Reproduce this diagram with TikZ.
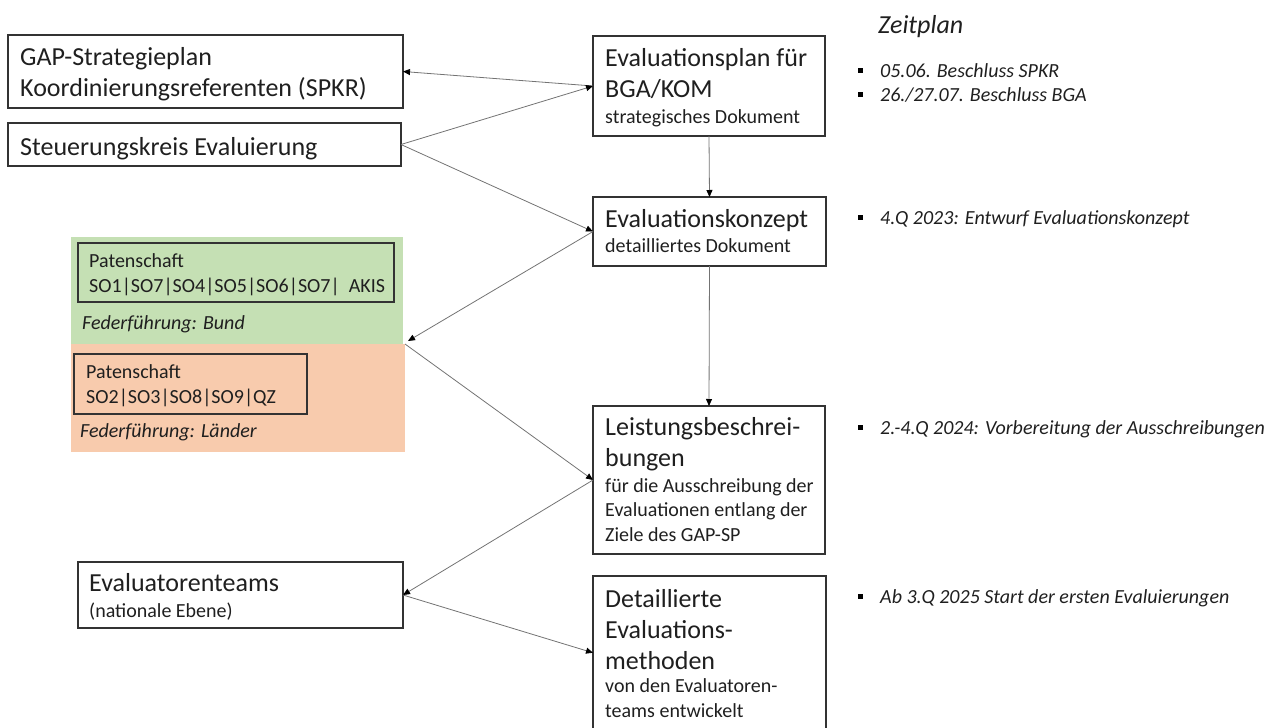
\documentclass[tikz,border=0pt]{standalone}
\usepackage{fontspec}
\setmainfont{Carlito}
\usetikzlibrary{arrows.meta}
\definecolor{bundgreen}{HTML}{C5E0B4}
\definecolor{laenderorange}{HTML}{F8CBAD}
\newcommand{\bigtxt}{\fontsize{26}{31}\selectfont}
\newcommand{\smalltxt}{\fontsize{20}{24.5}\selectfont}
\tikzset{
  box/.style={draw=black!80, line width=1.1pt, anchor=north west, inner sep=0pt, outer sep=0pt},
  band/.style={anchor=north west, inner sep=0pt, outer sep=0pt},
  txt/.style={anchor=base west, inner sep=0pt, align=left, text=black!88},
  sq/.style={fill=black, minimum size=5pt, inner sep=0pt},
  link/.style={draw=black!55, line width=0.8pt, -{Triangle[length=7pt,width=6pt,color=black]}}
}
\begin{document}
\begin{tikzpicture}[x=1pt, y=-1pt]
      \useasboundingbox (0,0) rectangle (1275,728);
      \clip (0,0) rectangle (1275,728);
      % multi-line texts sit on the baseline of their last line
      \node[box, minimum width=395pt, minimum height=73pt] (gap) at (8,35){};
      \node[txt, font=\bigtxt] (gap-t) at (20,96){GAP-Strategieplan\\Koordinierungsreferenten (SPKR)};
      \node[box, minimum width=393pt, minimum height=43pt] (steuer) at (8,123){};
      \node[txt, font=\bigtxt] (steuer-t) at (20,155){Steuerungskreis Evaluierung};
      \node[band, fill=bundgreen, minimum width=332pt, minimum height=107pt] (bund) at (71,237){};
      \node[band, fill=laenderorange, minimum width=334pt, minimum height=108pt] (laender) at (71,344){};
      \node[box, minimum width=316pt, minimum height=59pt] (bund-pat) at (78,243){};
      \node[txt, font=\smalltxt] (bund-t) at (89,292){Patenschaft\\SO1|SO7|SO4|SO5|SO6|SO7|\ \ AKIS};
      \node[txt, font=\smalltxt\itshape] (bund-ff) at (82,329){Federführung: Bund};
      \node[box, minimum width=233pt, minimum height=60pt] (laender-pat) at (74,354){};
      \node[txt, font=\smalltxt] (laender-t) at (86,403){Patenschaft\\SO2|SO3|SO8|SO9|QZ};
      \node[txt, font=\smalltxt\itshape] (laender-ff) at (80,437){Federführung: Länder};
      \node[box, minimum width=325pt, minimum height=66pt] (teams) at (78,562){};
      \node[txt, font=\bigtxt] (teams-t) at (89,591){Evaluatorenteams};
      \node[txt, font=\smalltxt] (teams-s) at (89,617){(nationale Ebene)};
      % middle column
      \node[box, minimum width=232pt, minimum height=100pt] (plan) at (593,36){};
      \node[txt, font=\bigtxt] (plan-t) at (605,97){Evaluationsplan für\\BGA/KOM};
      \node[txt, font=\smalltxt] (plan-s) at (605,123){strategisches Dokument};
      \node[box, minimum width=233pt, minimum height=69pt] (konzept) at (593,197){};
      \node[txt, font=\bigtxt] (konzept-t) at (605,227){Evaluationskonzept};
      \node[txt, font=\smalltxt] (konzept-s) at (605,252){detailliertes Dokument};
      \node[box, minimum width=232pt, minimum height=148pt] (leistung) at (593,406){};
      \node[txt, font=\bigtxt] (leistung-t) at (605,466){Leistungsbeschrei-\\bungen};
      \node[txt, font=\smalltxt] (leistung-s) at (605,541){für die Ausschreibung der\\Evaluationen entlang der\\Ziele des GAP-SP};
      \node[box, minimum width=233pt, minimum height=153.5pt] (methoden) at (593,576){};
      \node[txt, font=\bigtxt] (methoden-t) at (605,669){Detaillierte\\Evaluations-\\methoden};
      \node[txt, font=\smalltxt] (methoden-s) at (605,717){von den Evaluatoren-\\teams entwickelt};
      % Zeitplan
      \node[txt, font=\bigtxt\itshape] (zeitplan) at (878,33){Zeitplan};
      \node[sq] (q1) at (860,70){};
      \node[txt, font=\smalltxt\itshape] (z1) at (880,77){05.06. Beschluss SPKR};
      \node[sq] (q2) at (860,94){};
      \node[txt, font=\smalltxt\itshape] (z2) at (880,101){26./27.07. Beschluss BGA};
      \node[sq] (q3) at (860,217){};
      \node[txt, font=\smalltxt\itshape] (z3) at (880,224){4.Q 2023: Entwurf Evaluationskonzept};
      \node[sq] (q4) at (860,427){};
      \node[txt, font=\smalltxt\itshape] (z4) at (880,434){2.-4.Q 2024: Vorbereitung der Ausschreibungen};
      \node[sq] (q5) at (860,596){};
      \node[txt, font=\smalltxt\itshape] (z5) at (880,603){Ab 3.Q 2025 Start der ersten Evaluierungen};
      \draw[link](plan.west) -- (gap.east);
      \draw[link](steuer.east) -- (plan.west);
      \draw[link](steuer.east) -- (konzept.west);
      \draw[link](plan.south) -- (konzept.north);
      \draw[link](konzept.west) -- ([xshift=5pt,yshift=3pt]bund.south east);
      \draw[link](konzept.south) -- (leistung.north);
      \draw[link](laender.north east) -- (leistung.west);
      \draw[link](leistung.west) -- (teams.east);
      \draw[link](teams.east) -- (methoden.west);
    \end{tikzpicture}
\end{document}
